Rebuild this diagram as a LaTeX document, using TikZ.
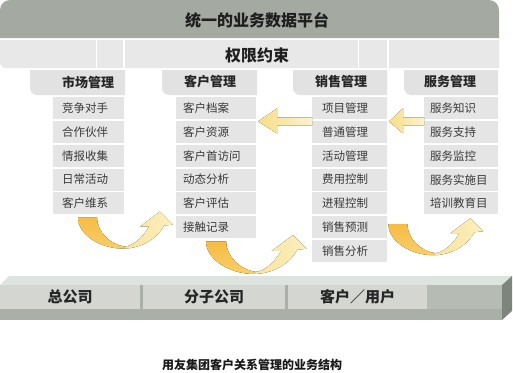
\documentclass[tikz,border=0pt]{standalone}
\usepackage{fontspec}
\setmainfont{Noto Sans CJK SC}
\usetikzlibrary{positioning}

\definecolor{platgray}{HTML}{A4AAA2}
\definecolor{permgray}{HTML}{E8E8E8}
\definecolor{headgray}{HTML}{E2E2E2}
\definecolor{itemgray}{HTML}{E5E5E5}
\definecolor{itemtext}{HTML}{3A3A3A}
\definecolor{gold}{HTML}{F6BC45}
\definecolor{goldlow}{HTML}{F9CE68}
\definecolor{palelow}{HTML}{FAE29A}
\definecolor{paleyellow}{HTML}{FCF0C0}
\definecolor{arrowgold}{HTML}{F8DE88}
\definecolor{arrowpale}{HTML}{FCF2CF}
\definecolor{topface}{HTML}{DDE3DE}
\definecolor{frontface}{HTML}{AAAFA8}
\definecolor{sideface}{HTML}{7E857C}
\definecolor{endgray}{HTML}{B6BBB4}
\definecolor{unitgray}{HTML}{D3D6D1}

\tikzset{
  item/.style={fill=itemgray, text=itemtext, minimum height=22pt, inner ysep=0pt,
    align=left, font=\fontsize{11.5}{12}\selectfont},
  mkt/.style={item, text width=53pt, inner xsep=9pt},
  cust/.style={item, text width=66pt, inner xsep=7pt},
  sale/.style={item, text width=55pt, inner xsep=10pt},
  serv/.style={item, text width=62pt, inner xsep=6pt},
  head/.style={font=\bfseries\fontsize{13}{14}\selectfont, text=black!85},
  unit/.style={fill=unitgray, minimum height=24pt, inner sep=0pt, anchor=north west,
    font=\bfseries\fontsize{15}{16}\selectfont, text=black!85},
  flatarrow/.style={left color=arrowgold, right color=arrowpale},
  swoosh/.pic={
    \fill[top color=gold, bottom color=goldlow] (0,0) .. controls (0,17) and (22,31) .. (45,31)
      -- (47,29) .. controls (32,27) and (19,14) .. (19,0) -- cycle;
    \fill[left color=palelow, right color=paleyellow] (45,31) .. controls (64,31) and (80,20) .. (86,8)
      -- (95,7) -- (82,-6) -- (62,9) -- (71,9) .. controls (64,21) and (55,28) .. (47,29) -- cycle;
  }
}

\begin{document}
\begin{tikzpicture}[x=1pt,y=-1pt]
    \useasboundingbox (0,0) rectangle (513,372);

    % 数据平台
    \fill[platgray] (0,38) -- (0,10) arc[start angle=180,end angle=270,radius=10] -- (489,0)
        arc[start angle=270,end angle=360,radius=10] -- (499,38) -- cycle;
    \node[font=\bfseries\fontsize{16}{18}\selectfont, text=black!88] (platform) at (257,20) {统一的业务数据平台};

    % 权限约束
    \fill[permgray] (0,40) -- (499,40) -- (499,68) -- (6,68) arc[start angle=90,end angle=180,radius=6] -- cycle;
    \draw[white,line width=0.8pt] (96,40) -- (96,68) (358,40) -- (358,68);
    \draw[white,line width=1.6pt] (124,40) -- (124,68) (388,40) -- (388,68);
    \node[font=\bfseries\fontsize{16}{18}\selectfont, text=black!88] (perm) at (257,55) {权限约束};

    % 模块标题
    \fill[headgray] (125,70) -- (30,70) -- (30,88) arc[start angle=180,end angle=90,radius=7] -- (125,95) -- cycle;
    \fill[headgray] (257,70) -- (162,70) -- (162,88) arc[start angle=180,end angle=90,radius=7] -- (257,95) -- cycle;
    \fill[headgray] (387,70) -- (293,70) -- (293,88) arc[start angle=180,end angle=90,radius=7] -- (387,95) -- cycle;
    \fill[headgray] (498,70) -- (404,70) -- (404,88) arc[start angle=180,end angle=90,radius=7] -- (498,95) -- cycle;
    \node[head] (mkthead) at (88,82) {市场管理};
    \node[head] (custhead) at (210,82) {客户管理};
    \node[head] (salehead) at (341,82) {销售管理};
    \node[head] (servhead) at (450,82) {服务管理};

    % 市场管理
    \node[mkt, anchor=north west] (m1) at (53,97) {竞争对手};
    \node[mkt, below=1.4pt of m1] (m2) {合作伙伴};
    \node[mkt, below=1.4pt of m2] (m3) {情报收集};
    \node[mkt, below=1.4pt of m3] (m4) {日常活动};
    \node[mkt, below=1.4pt of m4] (m5) {客户维系};

    % 客户管理
    \node[cust, anchor=north west] (c1) at (176,97) {客户档案};
    \node[cust, below=1.4pt of c1] (c2) {客户资源};
    \node[cust, below=1.4pt of c2] (c3) {客户首访问};
    \node[cust, below=1.4pt of c3] (c4) {动态分析};
    \node[cust, below=1.4pt of c4] (c5) {客户评估};
    \node[cust, below=1.4pt of c5] (c6) {接触记录};

    % 销售管理
    \node[sale, anchor=north west] (s1) at (312,97) {项目管理};
    \node[sale, below=1.4pt of s1] (s2) {普通管理};
    \node[sale, below=1.4pt of s2] (s3) {活动管理};
    \node[sale, below=1.4pt of s3] (s4) {费用控制};
    \node[sale, below=1.4pt of s4] (s5) {进程控制};
    \node[sale, below=1.4pt of s5] (s6) {销售预测};
    \node[sale, below=1.4pt of s6] (s7) {销售分析};

    % 服务管理
    \node[serv, anchor=north west] (v1) at (424,97) {服务知识};
    \node[serv, below=1.4pt of v1] (v2) {服务支持};
    \node[serv, below=1.4pt of v2] (v3) {服务监控};
    \node[serv, below=1.4pt of v3] (v4) {服务实施目};
    \node[serv, below=1.4pt of v4] (v5) {培训教育目};

    % 左向箭头
    \fill[flatarrow, shift={(s1.south west)}] (0,-2) -- (-35,-2) -- (-35,-11) -- (-54,2)
        -- (-35,14) -- (-35,6) -- (0,6) -- cycle;
    \fill[flatarrow, shift={(v1.south west)}] (0,-2) -- (-21,-2) -- (-21,-11) -- (-35,2)
        -- (-21,14) -- (-21,6) -- (0,6) -- cycle;

    % 弧形箭头
    \pic at ([xshift=25pt,yshift=-3pt]m5.south west) {swoosh};
    \pic[xscale=1.06,yscale=1.05] at ([xshift=30pt,yshift=-3pt]c6.south west) {swoosh};
    \pic at ([xshift=1pt,yshift=3pt]s6.east) {swoosh};

    % 底座
    \fill[topface] (0,285) -- (9,276) -- (512,276) -- (502,285) -- cycle;
    \fill[sideface] (502,285) -- (512,276) -- (512,311) -- (502,320) -- cycle;
    \fill[frontface] (0,285) rectangle (502,320);
    \fill[endgray] (427,285) rectangle (502,309);
    \node[unit, minimum width=140pt] (hq) at (0,285) {总公司};
    \node[unit, minimum width=142pt] (branch) at (143,285) {分子公司};
    \node[unit, minimum width=139pt] (client) at (288,285) {客户／用户};

    % 图题
    \node[font=\bfseries\fontsize{12}{13}\selectfont, text=black!90] (caption) at (252,365) {用友集团客户关系管理的业务结构};
\end{tikzpicture}
\end{document}
